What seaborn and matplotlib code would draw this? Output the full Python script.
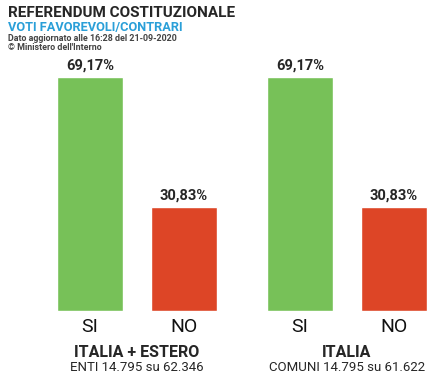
import matplotlib
matplotlib.use("Agg")
import matplotlib.pyplot as plt
import seaborn as sns
import pandas as pd

# ---- Data ----
categories = ["SI", "NO"]
italia_estero = [69.17, 30.83]
italia = [69.17, 30.83]
panel_titles = ["ITALIA + ESTERO", "ITALIA"]
panel_subtitles = ["ENTI 14.795 su 62.346", "COMUNI 14.795 su 61.622"]

colors = ["#77C158", "#DD4526"]

sns.set_style("white")
plt.rcParams["font.family"] = ["Roboto", "DejaVu Sans"]

fig = plt.figure(figsize=(4.48, 3.8), dpi=100)

ax_h = 0.6405
ax_b = 0.1816
axes = [fig.add_axes([43 / 448, ax_b, 188 / 448, ax_h]),
        fig.add_axes([253 / 448, ax_b, 188 / 448, ax_h])]

for ax, vals, t, st in zip(axes, [italia_estero, italia], panel_titles, panel_subtitles):
    df = pd.DataFrame({"voto": categories, "pct": vals})
    sns.barplot(data=df, x="voto", y="pct", hue="voto", palette=colors,
                width=0.7, legend=False, ax=ax, saturation=1)
    ax.set_ylim(0, 72)
    ax.set_xlim(-0.5, 1.5)
    # percentage labels above the bars
    for i, v in enumerate(vals):
        ax.text(i, v + 1.3, f"{v:.2f}%".replace(".", ","), ha="center", va="bottom",
                fontsize=10.5, fontweight="bold")
    ax.set_xlabel("")
    ax.set_ylabel("")
    ax.set_yticks([])
    ax.tick_params(axis="x", length=0, labelsize=14, pad=5, labelcolor="#111111")
    sns.despine(ax=ax, left=True, bottom=True)
    ax.text(0.5, -0.14, t, transform=ax.transAxes, ha="center", va="top",
            fontsize=11.5, fontweight="bold")
    ax.text(0.5, -0.205, st, transform=ax.transAxes, ha="center", va="top",
            fontsize=9.5)

fig.text(8 / 448, 1 - 6 / 380, "REFERENDUM COSTITUZIONALE", ha="left", va="top",
         fontsize=11, fontweight="bold")
fig.text(8 / 448, 1 - 21 / 380, "VOTI FAVOREVOLI/CONTRARI", ha="left", va="top",
         fontsize=9.2, fontweight="bold", color="#2A9FD8")
fig.text(8 / 448, 1 - 34 / 380, "Dato aggiornato alle 16:28 del 21-09-2020", ha="left",
         va="top", fontsize=6.4, fontweight="bold", color="#444444")
fig.text(8 / 448, 1 - 43 / 380, "© Ministero dell'Interno", ha="left", va="top",
         fontsize=6.4, fontweight="bold", color="#444444")

fig.savefig("out.png", dpi=100)
